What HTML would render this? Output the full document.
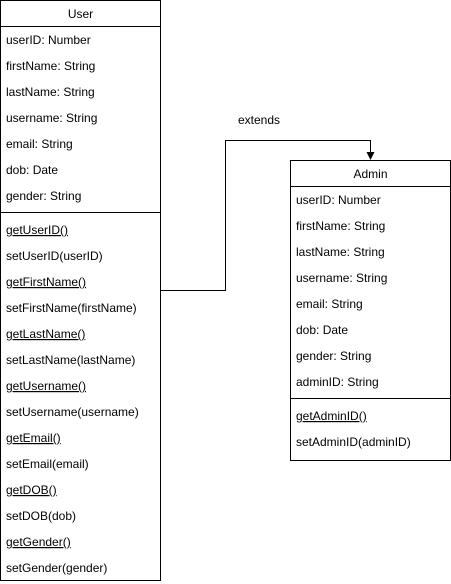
<!DOCTYPE html>
<html><head><style>body{margin:0;background:#fff}svg{display:block}text{font-family:"Liberation Sans",Arial,sans-serif;font-size:12px;fill:#000}</style></head>
<body>
<svg width="451" height="584" xmlns="http://www.w3.org/2000/svg">
<g fill="none" stroke="#000" stroke-width="1">
<rect x="0.5" y="0.5" width="160" height="580"/>
<line x1="0.5" y1="26.5" x2="160.5" y2="26.5"/>
<line x1="0.5" y1="212.5" x2="160.5" y2="212.5"/>
<rect x="290.5" y="160.5" width="160" height="300"/>
<line x1="290.5" y1="186.5" x2="450.5" y2="186.5"/>
<line x1="290.5" y1="398.5" x2="450.5" y2="398.5"/>
<polyline points="160.5,290.5 225.5,290.5 225.5,140.5 370.5,140.5 370.5,153"/>
</g>
<polygon points="366.5,152 374.5,152 370.5,160" fill="#000"/>
<text x="259" y="124" text-anchor="middle">extends</text>
<text x="80.5" y="18" text-anchor="middle">User</text>
<g>
<text x="6" y="44">userID: Number</text>
<text x="6" y="70">firstName: String</text>
<text x="6" y="96">lastName: String</text>
<text x="6" y="122">username: String</text>
<text x="6" y="148">email: String</text>
<text x="6" y="174">dob: Date</text>
<text x="6" y="200">gender: String</text>
<text x="6" y="234" text-decoration="underline">getUserID()</text>
<text x="6" y="260">setUserID(userID)</text>
<text x="6" y="286" text-decoration="underline">getFirstName()</text>
<text x="6" y="312">setFirstName(firstName)</text>
<text x="6" y="338" text-decoration="underline">getLastName()</text>
<text x="6" y="364">setLastName(lastName)</text>
<text x="6" y="390" text-decoration="underline">getUsername()</text>
<text x="6" y="416">setUsername(username)</text>
<text x="6" y="442" text-decoration="underline">getEmail()</text>
<text x="6" y="468">setEmail(email)</text>
<text x="6" y="494" text-decoration="underline">getDOB()</text>
<text x="6" y="520">setDOB(dob)</text>
<text x="6" y="546" text-decoration="underline">getGender()</text>
<text x="6" y="572">setGender(gender)</text>
</g>
<text x="370.5" y="178" text-anchor="middle">Admin</text>
<g>
<text x="296" y="204">userID: Number</text>
<text x="296" y="230">firstName: String</text>
<text x="296" y="256">lastName: String</text>
<text x="296" y="282">username: String</text>
<text x="296" y="308">email: String</text>
<text x="296" y="334">dob: Date</text>
<text x="296" y="360">gender: String</text>
<text x="296" y="386">adminID: String</text>
<text x="296" y="420" text-decoration="underline">getAdminID()</text>
<text x="296" y="446">setAdminID(adminID)</text>
</g>
</svg>
</body></html>
